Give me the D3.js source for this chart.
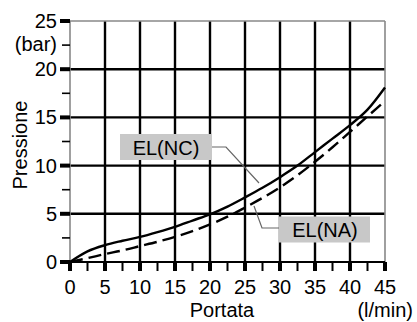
<!DOCTYPE html>
<html><head><meta charset="utf-8">
<script src="https://cdn.jsdelivr.net/npm/d3@7"></script>
<style>body{margin:0;background:#fff}svg{display:block;font-family:"Liberation Sans",Arial,sans-serif}</style>
</head><body><svg id="c" width="417" height="322"></svg>
<script>
const flow = [0,2.5,5,7.5,10,12.5,15,17.5,20,22.5,25,27.5,30,32.5,35,37.5,40,42.5,45];
const pressNC = [0,1.1,1.75,2.2,2.6,3.1,3.65,4.3,4.95,5.75,6.7,7.7,8.8,10.0,11.4,12.8,14.2,15.8,18.1];
const pressNA = [0,0.4,0.82,1.2,1.65,2.1,2.6,3.2,3.9,4.7,5.65,6.65,7.75,9.0,10.4,11.9,13.5,15.1,16.7];
const xTicks = [0,5,10,15,20,25,30,35,40,45];
const yTicks = [0,5,10,15,20,25];
const xMinor = [2.5,7.5,12.5,17.5,22.5,27.5,32.5,37.5,42.5];
const yMinor = [2.5,7.5,12.5,17.5,22.5];
const labels = {x:"Portata", xUnit:"(l/min)", y:"Pressione", yUnit:"(bar)", nc:"EL(NC)", na:"EL(NA)"};

const svg = d3.select("#c");
const x = d3.scaleLinear().domain([0,45]).range([70,385]);
const y = d3.scaleLinear().domain([0,25]).range([262,21]);
const fs = "20px";

const g = svg.append("g");
g.selectAll(".vg").data(xTicks.slice(1,-1)).join("line")
  .attr("x1",d=>x(d)).attr("x2",d=>x(d)).attr("y1",y(0)).attr("y2",y(25))
  .attr("stroke","#000").attr("stroke-width",2.4);
g.selectAll(".hg").data(yTicks.slice(1,-1)).join("line")
  .attr("x1",x(0)).attr("x2",x(45)).attr("y1",d=>y(d)).attr("y2",d=>y(d))
  .attr("stroke","#000").attr("stroke-width",2.4);
g.append("line").attr("x1",x(0)).attr("x2",x(45)).attr("y1",y(25)).attr("y2",y(25)).attr("stroke","#888").attr("stroke-width",1.6);
g.append("line").attr("x1",x(45)).attr("x2",x(45)).attr("y1",y(25)).attr("y2",y(0)).attr("stroke","#888").attr("stroke-width",1.6);
g.append("line").attr("x1",x(0)).attr("x2",x(0)).attr("y1",y(25)).attr("y2",y(0)).attr("stroke","#888").attr("stroke-width",1.6);
g.append("line").attr("x1",x(0)-2).attr("x2",x(45)).attr("y1",y(0)).attr("y2",y(0)).attr("stroke","#000").attr("stroke-width",2.2);

g.selectAll(".xt").data(xTicks).join("line")
  .attr("x1",d=>x(d)).attr("x2",d=>x(d)).attr("y1",y(0)).attr("y2",y(0)+9)
  .attr("stroke","#000").attr("stroke-width",4);
g.selectAll(".xm").data(xMinor).join("line")
  .attr("x1",d=>x(d)).attr("x2",d=>x(d)).attr("y1",y(0)).attr("y2",y(0)+9)
  .attr("stroke","#000").attr("stroke-width",2);
g.selectAll(".xl").data(xTicks).join("text")
  .attr("x",d=>x(d)).attr("y",y(0)+32).attr("text-anchor","middle")
  .attr("font-size",fs).text(d=>d);
g.selectAll(".yt").data(yTicks).join("line")
  .attr("x1",x(0)-10).attr("x2",x(0)).attr("y1",d=>y(d)).attr("y2",d=>y(d))
  .attr("stroke","#000").attr("stroke-width",4);
g.selectAll(".ym").data(yMinor).join("line")
  .attr("x1",x(0)-8).attr("x2",x(0)).attr("y1",d=>y(d)).attr("y2",d=>y(d))
  .attr("stroke","#000").attr("stroke-width",1.6);
g.selectAll(".yl").data(yTicks).join("text")
  .attr("x",57).attr("y",d=>y(d)+7).attr("text-anchor","end")
  .attr("font-size",fs).text(d=>d);
g.append("text").attr("x",57).attr("y",y(22.5)+6).attr("text-anchor","end").attr("font-size",fs).text(labels.yUnit);
g.append("text").attr("transform","translate(27,145) rotate(-90)").attr("text-anchor","middle").attr("font-size",fs).text(labels.y);
g.append("text").attr("x",222).attr("y",317).attr("text-anchor","middle").attr("font-size",fs).text(labels.x);
g.append("text").attr("x",413).attr("y",317).attr("text-anchor","end").attr("font-size",fs).text(labels.xUnit);

const line = d3.line().x(d=>x(d[0])).y(d=>y(d[1])).curve(d3.curveMonotoneX);
svg.append("path").attr("d",line(flow.map((f,i)=>[f,pressNA[i]])))
  .attr("fill","none").attr("stroke","#000").attr("stroke-width",2.4).attr("stroke-dasharray","13,6");
svg.append("path").attr("d",line(flow.map((f,i)=>[f,pressNC[i]])))
  .attr("fill","none").attr("stroke","#000").attr("stroke-width",2.4);

svg.append("polyline").attr("points",[[211,147],[226,147],[259,183]].join(" "))
  .attr("fill","none").attr("stroke","#666").attr("stroke-width",1.2);
svg.append("polyline").attr("points",[[254,206],[262,228],[280,228]].join(" "))
  .attr("fill","none").attr("stroke","#666").attr("stroke-width",1.2);
svg.append("rect").attr("x",120).attr("y",134).attr("width",92).attr("height",26).attr("fill","#c8c8c8");
svg.append("text").attr("x",166).attr("y",154.5).attr("text-anchor","middle").attr("font-size",fs).text(labels.nc);
svg.append("rect").attr("x",279).attr("y",216.5).attr("width",91).attr("height",26).attr("fill","#c8c8c8");
svg.append("text").attr("x",325).attr("y",237).attr("text-anchor","middle").attr("font-size",fs).text(labels.na);
</script></body></html>
